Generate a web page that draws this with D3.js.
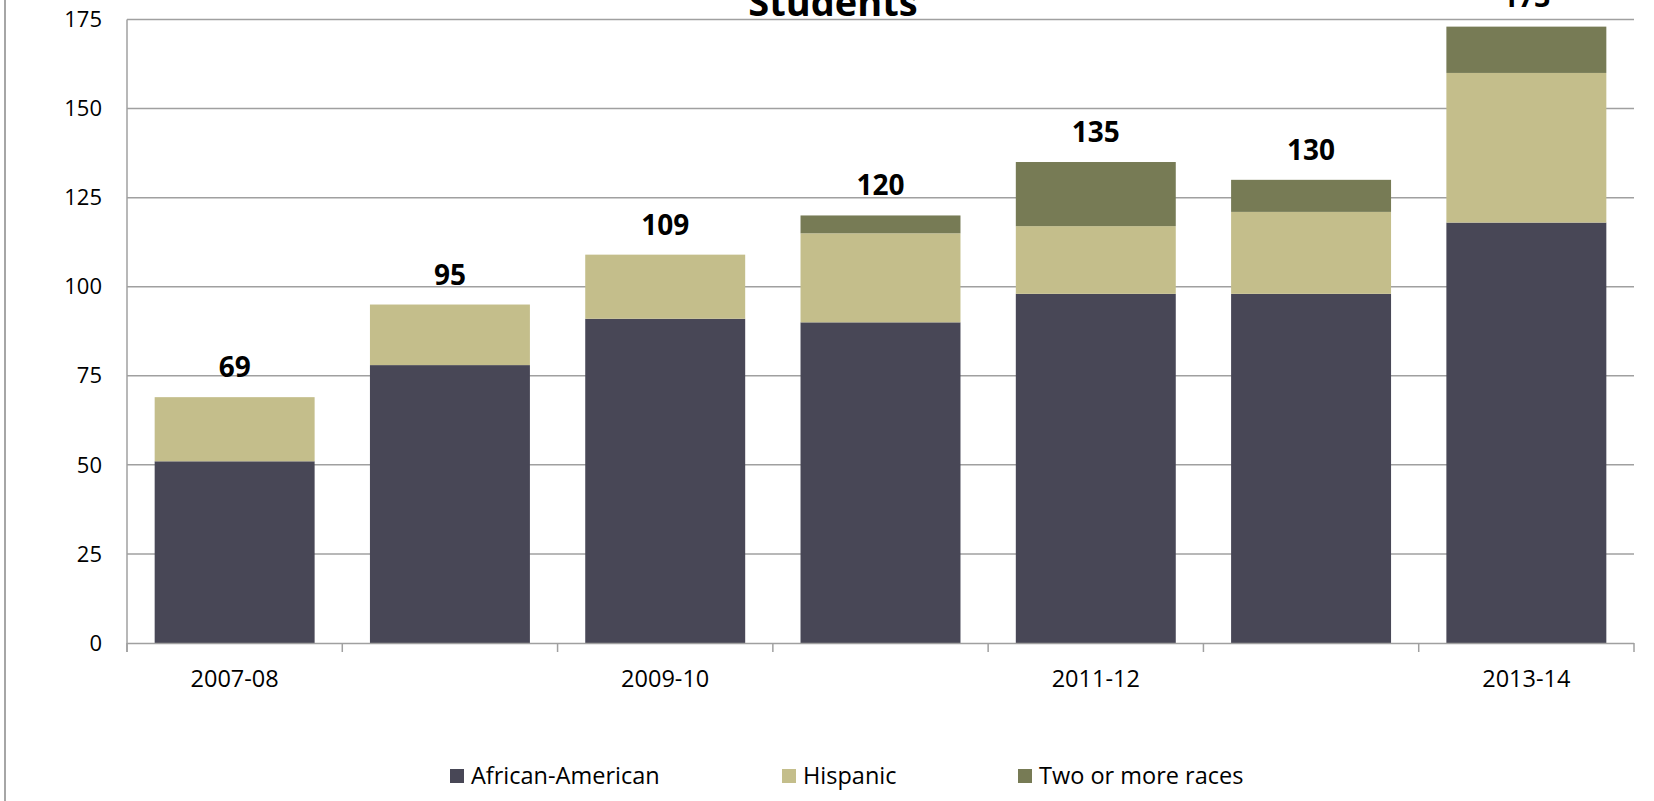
<!DOCTYPE html>
<html>
<head>
<meta charset="utf-8">
<script src="https://cdn.jsdelivr.net/npm/d3@7"></script>
<style>
  html, body { margin: 0; padding: 0; background: #fff; }
  svg { display: block; font-family: "Open Sans", sans-serif; }
</style>
</head>
<body>
<svg id="chart" width="1654" height="801"></svg>
<script>
// School years on the x axis
const categories = ["2007-08", "2008-09", "2009-10", "2010-11", "2011-12", "2012-13", "2013-14"];

// Student counts per group, stacked bottom to top
const seriesNames = ["African-American", "Hispanic", "Two or more races"];
const africanAmerican = [51, 78, 91, 90, 98, 98, 118];
const hispanic        = [18, 17, 18, 25, 19, 23, 42];
const twoOrMore       = [0, 0, 0, 5, 18, 9, 13];

// Totals printed above each bar
const totals = [69, 95, 109, 120, 135, 130, 173];

const yTicks = [0, 25, 50, 75, 100, 125, 150, 175];
const colors = ["#484756", "#c4be8b", "#777b55"];

const svg = d3.select("#chart");
const W = 1654, H = 801;
const plot = { left: 127, right: 1634, top: 19.5, bottom: 643 };

// Outer frame edge on the left
svg.append("line")
  .attr("x1", 5).attr("x2", 5).attr("y1", 0).attr("y2", H)
  .attr("stroke", "#a6a6a6").attr("stroke-width", 2);

const x = d3.scaleBand()
  .domain(categories)
  .range([plot.left, plot.right])
  .paddingInner(0.257)
  .paddingOuter(0.1285);

const y = d3.scaleLinear()
  .domain([0, 175])
  .range([plot.bottom, plot.top]);

// Horizontal gridlines
svg.append("g")
  .selectAll("line")
  .data(yTicks.filter(t => t > 0))
  .join("line")
  .attr("x1", plot.left).attr("x2", plot.right)
  .attr("y1", d => y(d)).attr("y2", d => y(d))
  .attr("stroke", "#a0a0a0").attr("stroke-width", 1.5);

// Y axis labels
svg.append("g")
  .selectAll("text")
  .data(yTicks)
  .join("text")
  .attr("x", 102)
  .attr("y", d => y(d))
  .attr("dy", "0.35em")
  .attr("text-anchor", "end")
  .attr("font-size", 22)
  .attr("fill", "#000")
  .text(d => d);

// Stacked bars
const rows = categories.map((c, i) => ({
  cat: c,
  "African-American": africanAmerican[i],
  "Hispanic": hispanic[i],
  "Two or more races": twoOrMore[i]
}));
const stack = d3.stack().keys(seriesNames)(rows);

svg.append("g")
  .selectAll("g")
  .data(stack)
  .join("g")
  .attr("fill", (d, i) => colors[i])
  .selectAll("rect")
  .data(d => d)
  .join("rect")
  .attr("x", d => x(d.data.cat))
  .attr("width", x.bandwidth())
  .attr("y", d => y(d[1]))
  .attr("height", d => y(d[0]) - y(d[1]));

// Left axis line
svg.append("line")
  .attr("x1", plot.left).attr("x2", plot.left)
  .attr("y1", plot.top).attr("y2", plot.bottom + 9)
  .attr("stroke", "#a0a0a0").attr("stroke-width", 1.5);

// Baseline
svg.append("line")
  .attr("x1", plot.left).attr("x2", plot.right)
  .attr("y1", plot.bottom + 0.5).attr("y2", plot.bottom + 0.5)
  .attr("stroke", "#a0a0a0").attr("stroke-width", 1.5);

// Tick marks at category boundaries
const half = (x.step() - x.bandwidth()) / 2;
const boundaries = categories.map(c => x(c) - half).concat([plot.right]);
svg.append("g")
  .selectAll("line")
  .data(boundaries)
  .join("line")
  .attr("x1", d => d).attr("x2", d => d)
  .attr("y1", plot.bottom).attr("y2", plot.bottom + 9)
  .attr("stroke", "#a0a0a0").attr("stroke-width", 1.5);

// Category labels, every other year
svg.append("g")
  .selectAll("text")
  .data(categories.filter((c, i) => i % 2 === 0))
  .join("text")
  .attr("x", d => x(d) + x.bandwidth() / 2)
  .attr("y", 687)
  .attr("text-anchor", "middle")
  .attr("font-size", 23.5)
  .attr("fill", "#000")
  .text(d => d);

// Total labels above bars
svg.append("g")
  .selectAll("text")
  .data(categories)
  .join("text")
  .attr("x", d => x(d) + x.bandwidth() / 2)
  .attr("y", (d, i) => y(totals[i]) - 20)
  .attr("text-anchor", "middle")
  .attr("font-size", 28)
  .attr("font-weight", "bold")
  .attr("fill", "#000")
  .text((d, i) => totals[i]);

// Title (last line visible at the top edge)
svg.append("text")
  .attr("x", 833)
  .attr("y", 16)
  .attr("text-anchor", "middle")
  .attr("font-size", 38)
  .attr("font-weight", "bold")
  .attr("fill", "#000")
  .text("Students");

// Legend
const legendX = [450, 782, 1018];
const legend = svg.append("g")
  .selectAll("g")
  .data(seriesNames)
  .join("g")
  .attr("transform", (d, i) => `translate(${legendX[i]},776)`);
legend.append("rect")
  .attr("x", 0).attr("y", -7)
  .attr("width", 14).attr("height", 14)
  .attr("fill", (d, i) => colors[i]);
legend.append("text")
  .attr("x", 21).attr("y", 0)
  .attr("dy", "0.35em")
  .attr("font-size", 23.5)
  .attr("fill", "#000")
  .text(d => d);
</script>
</body>
</html>
